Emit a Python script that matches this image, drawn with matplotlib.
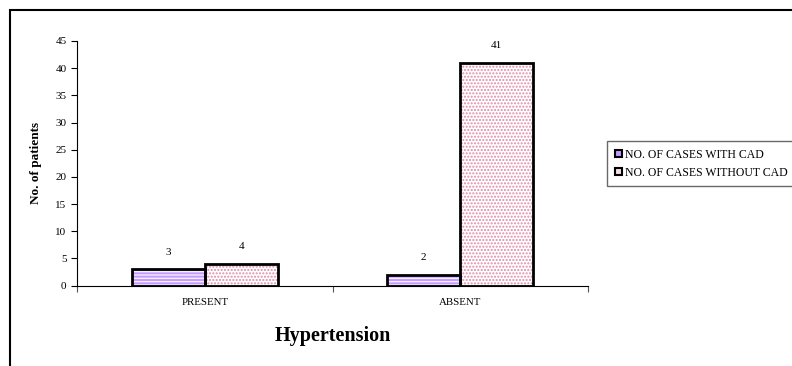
import numpy as np
import matplotlib.pyplot as plt
from matplotlib.patches import Rectangle

categories = ['PRESENT', 'ABSENT']
with_cad = [3, 2]
without_cad = [4, 41]
series_names = ['NO. OF CASES WITH CAD', 'NO. OF CASES WITHOUT CAD']

plt.rcParams['font.family'] = ['Liberation Serif', 'DejaVu Serif']
plt.rcParams['hatch.linewidth'] = 1.0

fig = plt.figure(figsize=(7.92, 3.66), dpi=100)
ax = fig.add_axes([77 / 792, 80.5 / 366, 511 / 792, 244.5 / 366])

x = np.arange(len(categories)) + 0.5
w = 0.286

# hatched fills first, then black outlines on top
ax.bar(x - w / 2, with_cad, w, color='#c49cff', hatch='-----',
       edgecolor='#f4ecff', linewidth=0)
ax.bar(x + w / 2, without_cad, w, color='white', hatch='.....',
       edgecolor='#e08aa8', linewidth=0)
ax.bar(x - w / 2, with_cad, w, fill=False, edgecolor='black', linewidth=2)
ax.bar(x + w / 2, without_cad, w, fill=False, edgecolor='black', linewidth=2)

for xi, v in zip(x - w / 2, with_cad):
    ax.annotate(str(v), (xi, v), xytext=(0, 9), textcoords='offset points',
                ha='center', va='bottom', fontsize=8)
for xi, v in zip(x + w / 2, without_cad):
    ax.annotate(str(v), (xi, v), xytext=(0, 9), textcoords='offset points',
                ha='center', va='bottom', fontsize=8)

ax.set_xlim(0, len(categories))
ax.set_ylim(0, 45)
ax.set_yticks(range(0, 46, 5))
ax.set_xticks([0, 1, 2])
ax.set_xticklabels([])
ax.set_xticks(x, minor=True)
ax.set_xticklabels(categories, minor=True)
ax.tick_params(axis='x', which='minor', length=0, labelsize=7.8, pad=9)
ax.tick_params(axis='x', which='major', length=4, color='#555555')
ax.tick_params(axis='y', labelsize=8, length=4)
for s in ['top', 'right']:
    ax.spines[s].set_visible(False)

ax.set_ylabel('No. of patients', fontsize=9.5, fontweight='bold', labelpad=10)
ax.set_xlabel('Hypertension', fontsize=14.5, fontweight='bold', labelpad=14)

handles = [Rectangle((0, 0), 1, 1, facecolor='#c49cff', edgecolor='black', lw=1.5),
           Rectangle((0, 0), 1, 1, facecolor='#f5dde5', edgecolor='black', lw=1.5)]
leg = fig.legend(handles, series_names, loc='upper left',
                 bbox_to_anchor=(607 / 792, 1 - 141 / 366), fontsize=8.5,
                 frameon=True, fancybox=False, edgecolor='#444444',
                 handlelength=0.6, handleheight=0.6, handletextpad=0.25,
                 labelspacing=0.5, borderpad=0.65, borderaxespad=0)
leg.get_frame().set_linewidth(1.0)

# frame around the chart, cropped on the right and bottom
fig.patches.append(Rectangle((10 / 792, -0.1), 1.1, 1 - 10 / 366 + 0.1,
                             transform=fig.transFigure, fill=False,
                             edgecolor='black', linewidth=1.5))

fig.savefig('out.png', dpi=100)
